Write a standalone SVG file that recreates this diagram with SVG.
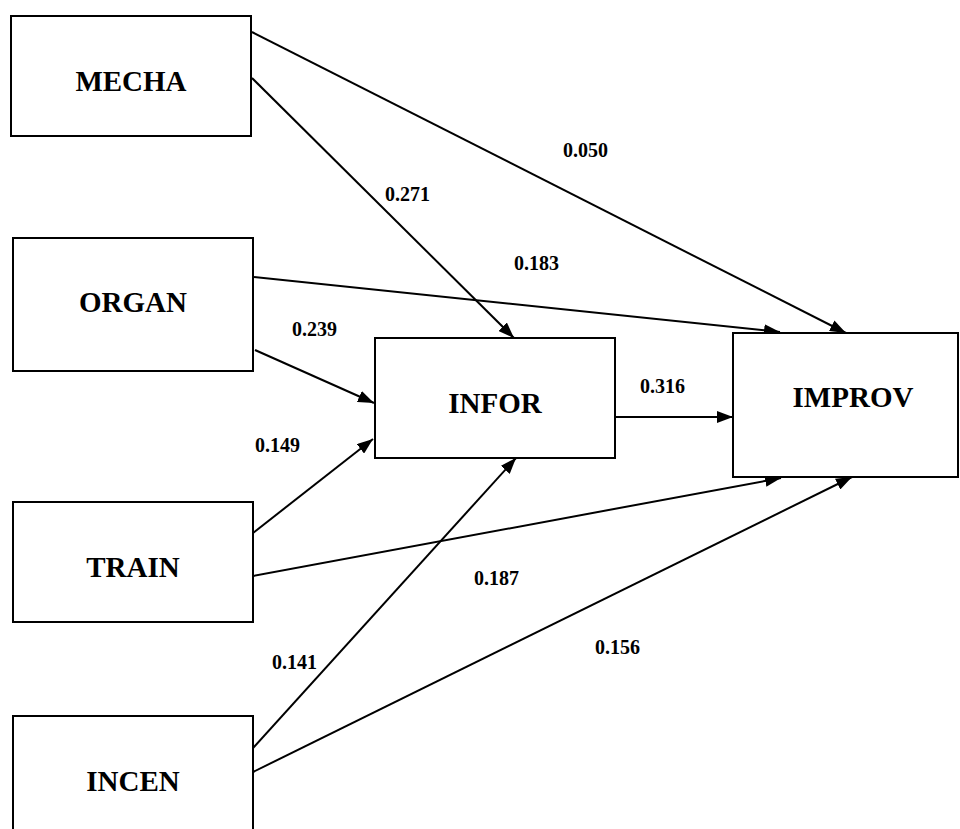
<svg xmlns="http://www.w3.org/2000/svg" width="960" height="829" viewBox="0 0 960 829">
<style>
.box{fill:#fff;stroke:#000;stroke-width:2}
.lbl{font-family:"Liberation Serif","Times New Roman",serif;font-weight:bold;font-size:29px;text-anchor:middle;fill:#000}
.num{font-family:"Liberation Serif","Times New Roman",serif;font-weight:bold;font-size:20px;fill:#000}
.edge{stroke:#000;stroke-width:2;fill:none;marker-end:url(#arr)}
</style>
<defs>
<marker id="arr" viewBox="0 0 16 12" refX="16" refY="6" markerWidth="16" markerHeight="12" markerUnits="userSpaceOnUse" orient="auto">
<path d="M0,0 L16,6 L0,12 z" fill="#000"/>
</marker>
</defs>
<rect width="960" height="829" fill="#fff"/>
<g id="connectors">
<line class="edge" x1="252" y1="32" x2="846" y2="333"/>
<line class="edge" x1="252" y1="78" x2="514" y2="338"/>
<line class="edge" x1="254" y1="277" x2="780" y2="332"/>
<line class="edge" x1="255" y1="350" x2="374" y2="403"/>
<line class="edge" x1="253" y1="533" x2="373" y2="439"/>
<line class="edge" x1="253" y1="576" x2="781" y2="478"/>
<line class="edge" x1="253" y1="748" x2="516" y2="458"/>
<line class="edge" x1="253" y1="772" x2="852" y2="477"/>
<line class="edge" x1="615" y1="417" x2="733" y2="417"/>
</g>
<g id="MECHA"><rect class="box" x="11" y="16" width="240" height="120"/><text class="lbl" x="131" y="91">MECHA</text></g>
<g id="ORGAN"><rect class="box" x="13" y="238" width="240" height="133"/><text class="lbl" x="133" y="312">ORGAN</text></g>
<g id="TRAIN"><rect class="box" x="13" y="502" width="240" height="120"/><text class="lbl" x="133" y="577">TRAIN</text></g>
<g id="INCEN"><rect class="box" x="13" y="716" width="240" height="130"/><text class="lbl" x="133" y="791">INCEN</text></g>
<g id="INFOR"><rect class="box" x="375" y="338" width="240" height="120"/><text class="lbl" x="495" y="413">INFOR</text></g>
<g id="IMPROV"><rect class="box" x="733" y="333" width="225" height="144"/><text class="lbl" x="853" y="407">IMPROV</text></g>
<g id="labels">
<text class="num" x="563" y="157">0.050</text>
<text class="num" x="385" y="201">0.271</text>
<text class="num" x="514" y="270">0.183</text>
<text class="num" x="292" y="336">0.239</text>
<text class="num" x="255" y="452">0.149</text>
<text class="num" x="640" y="393">0.316</text>
<text class="num" x="474" y="585">0.187</text>
<text class="num" x="595" y="654">0.156</text>
<text class="num" x="272" y="669">0.141</text>
</g>
</svg>
